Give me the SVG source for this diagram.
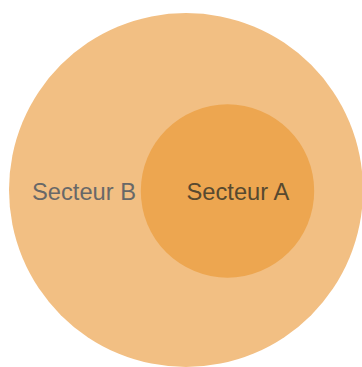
<svg xmlns="http://www.w3.org/2000/svg" width="362" height="367" viewBox="0 0 362 367">
<style>
.lbl{font-family:"Liberation Sans",Arial,sans-serif;font-size:23.7px}
</style>
<rect width="362" height="367" fill="#ffffff"/>
<g id="secteur-b">
<circle cx="186" cy="190" r="177" fill="#F2BF83"/>
<text class="lbl" x="32" y="200" fill="#686868">Secteur B</text>
</g>
<g id="secteur-a">
<circle cx="227.5" cy="191" r="86.7" fill="#EDA650"/>
<text class="lbl" x="186.5" y="200" fill="#57492F">Secteur A</text>
</g>
<g id="connectors"/>
</svg>
